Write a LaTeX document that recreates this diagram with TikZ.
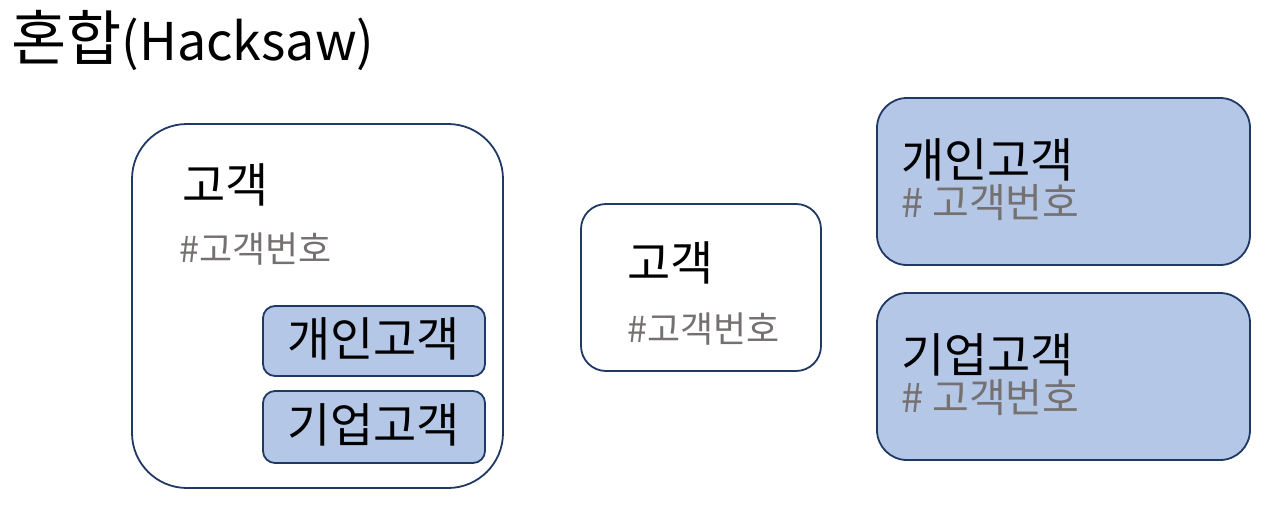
\documentclass[tikz,border=0pt]{standalone}
\usepackage{fontspec}
\setmainfont{Noto Sans CJK KR}
\definecolor{boxfill}{HTML}{B4C7E7}
\definecolor{boxline}{HTML}{1F3864}
\definecolor{idgray}{HTML}{767171}
\begin{document}
\begin{tikzpicture}[x=1pt,y=-1pt,
  ent/.style={draw=boxline,line width=1.8pt},
  sub/.style={ent,fill=boxfill},
  lbl/.style={anchor=base west,inner sep=0pt,font=\fontsize{47}{52}\selectfont},
  key/.style={anchor=base west,inner sep=0pt,text=idgray,font=\fontsize{36}{40}\selectfont},
  bigkey/.style={key,font=\fontsize{40}{44}\selectfont}]
\useasboundingbox (0,0) rectangle (1275,506);
% title
\node[anchor=base west,inner sep=0pt] (title) at (11,60) {\fontsize{60}{64}\selectfont 혼합\fontsize{52}{56}\selectfont(Hacksaw)};
% left combined
\draw[ent,rounded corners=55pt] (132,124) rectangle (503,488);
\node[lbl] (l1) at (182,202) {고객};
\node[key] (l2) at (179,262) {\#고객번호};
\draw[sub,rounded corners=12pt] (263,306) rectangle (485,376);
\node[lbl] (l3) at (287,356) {개인고객};
\draw[sub,rounded corners=12pt] (263,391) rectangle (485,463);
\node[lbl] (l4) at (287,442) {기업고객};
% middle
\draw[ent,rounded corners=25pt] (581,204) rectangle (821,371);
\node[lbl] (m1) at (627,280) {고객};
\node[key] (m2) at (627,342) {\#고객번호};
% right
\draw[sub,rounded corners=30pt] (877,98) rectangle (1250,265);
\node[lbl] (r1) at (901,177) {개인고객};
\node[bigkey] (r2) at (901,217) {\# 고객번호};
\draw[sub,rounded corners=30pt] (877,293) rectangle (1250,460);
\node[lbl] (r3) at (901,372) {기업고객};
\node[bigkey] (r4) at (901,412) {\# 고객번호};
\end{tikzpicture}
\end{document}
